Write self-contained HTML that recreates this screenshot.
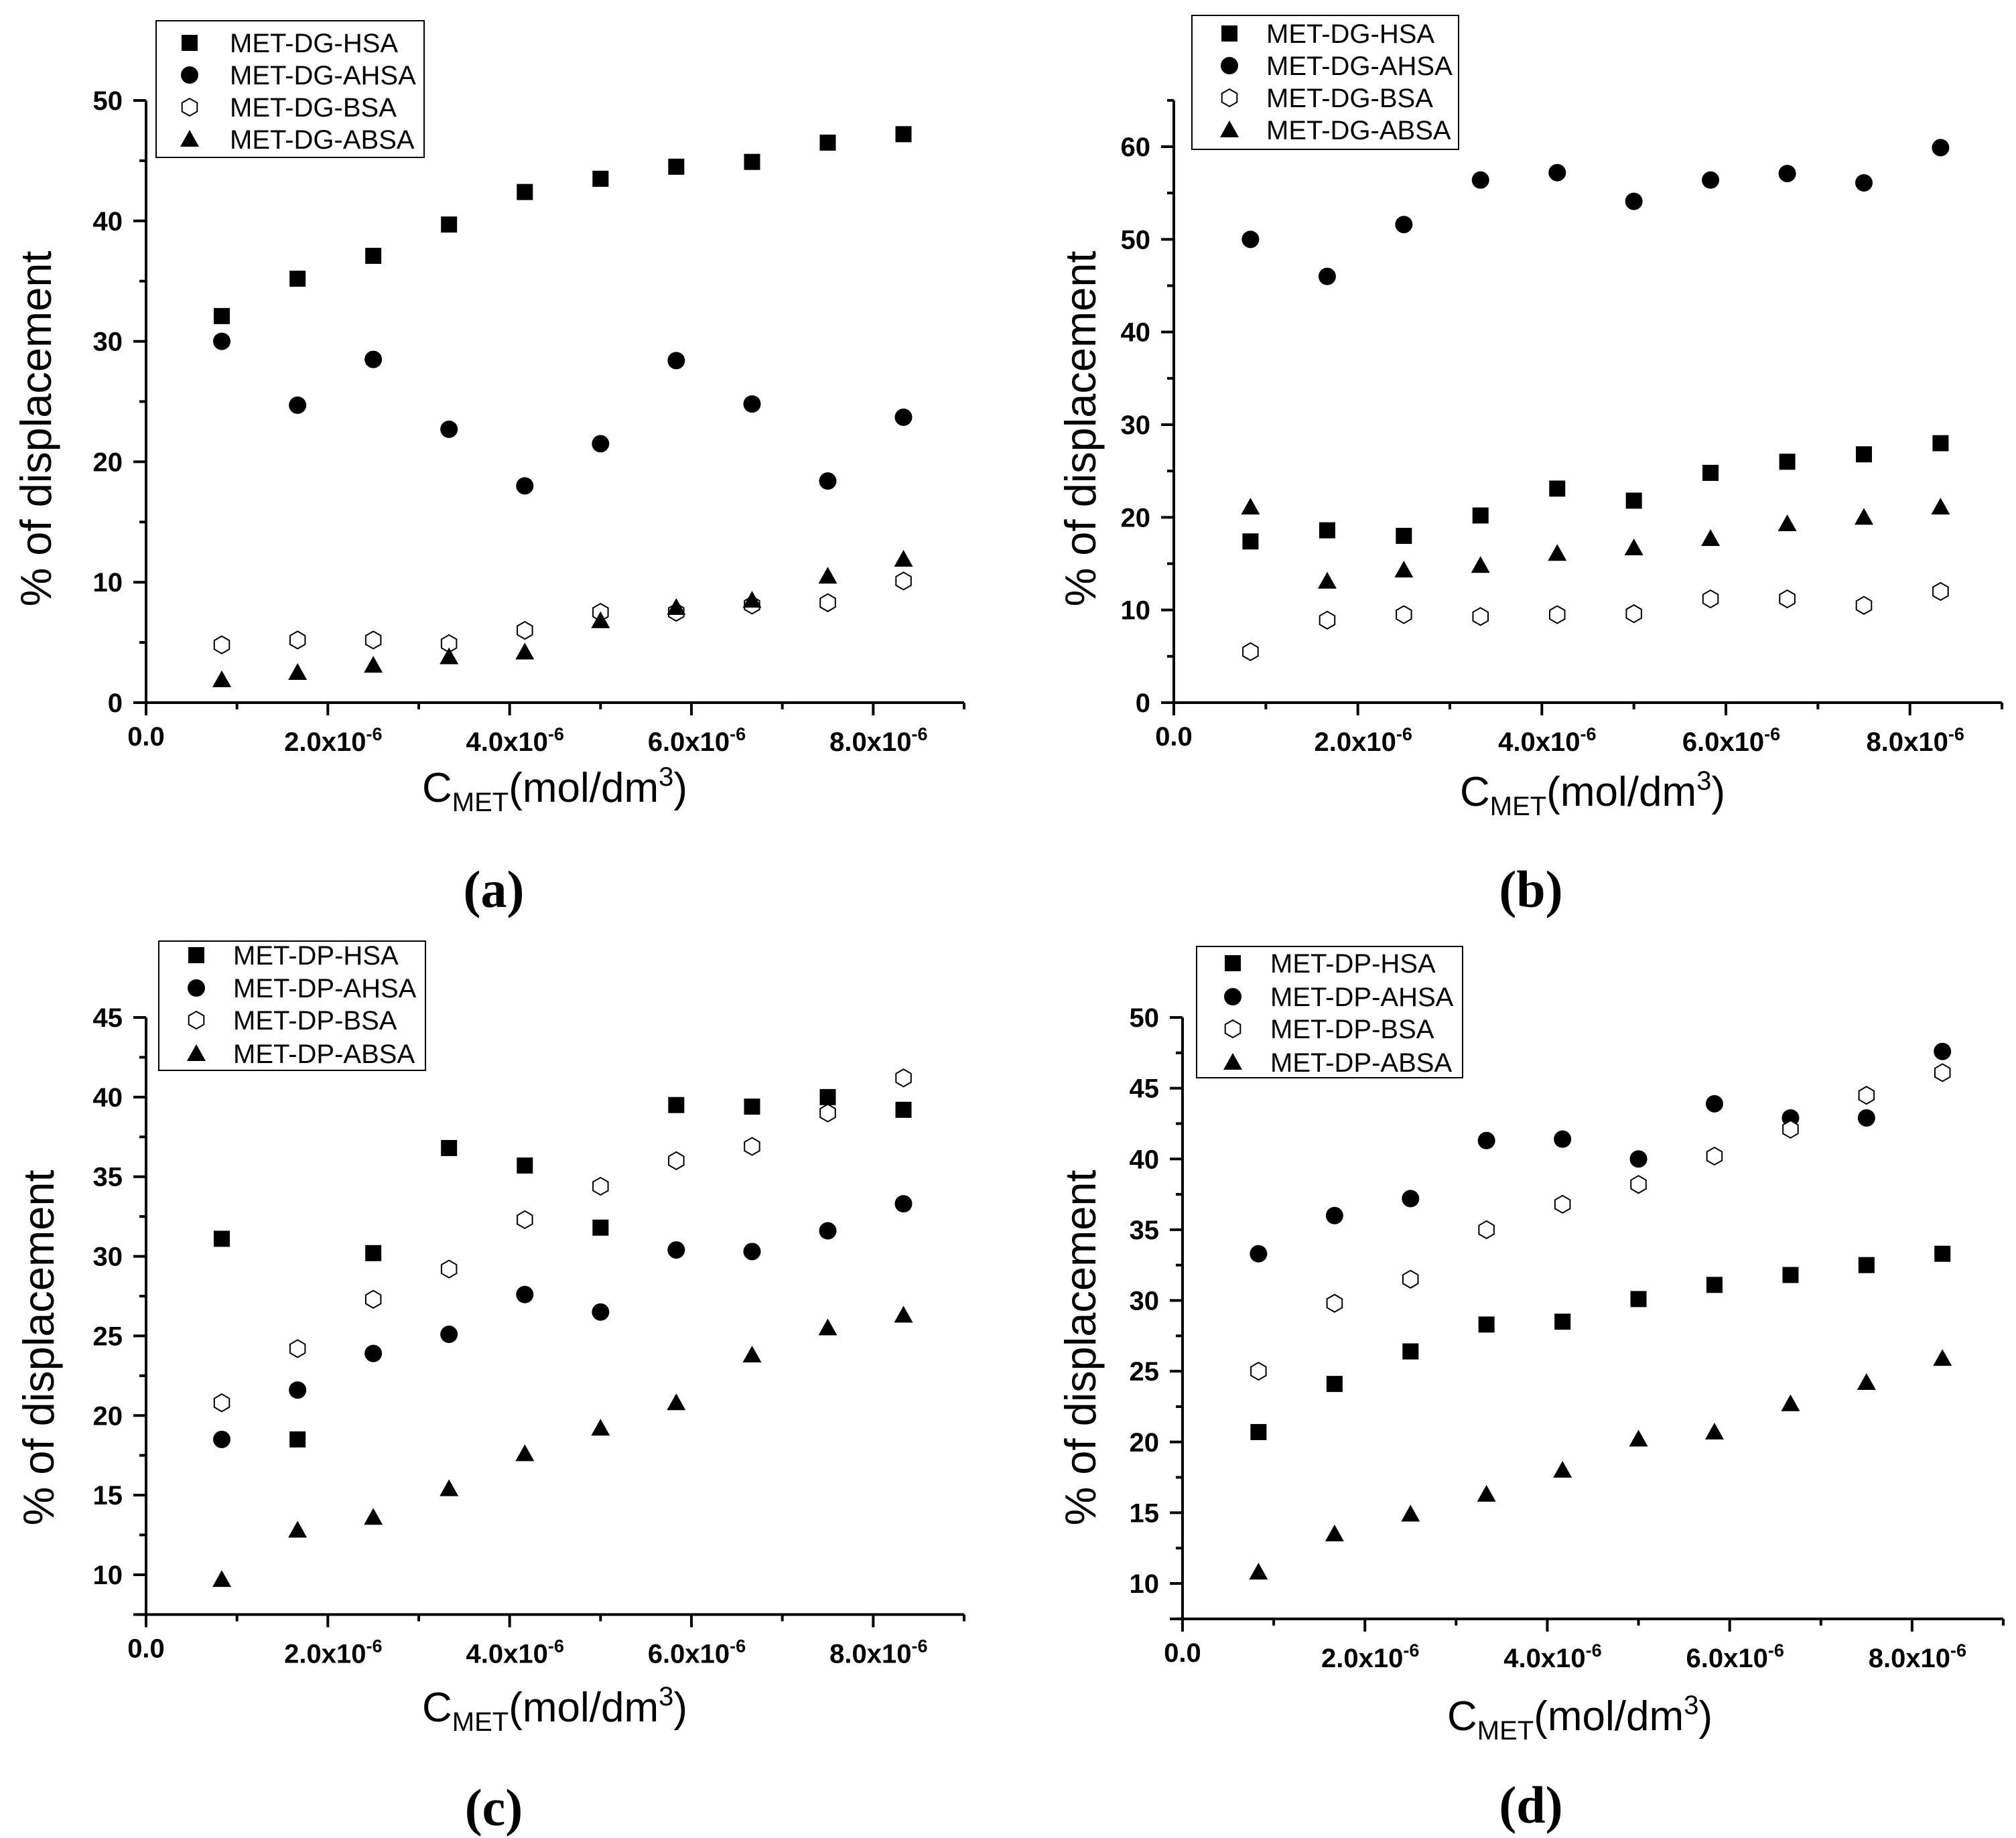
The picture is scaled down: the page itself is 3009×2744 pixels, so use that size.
<!DOCTYPE html>
<html><head><meta charset="utf-8">
<style>
html,body{margin:0;padding:0;background:#fff;}
svg{display:block;font-family:"Liberation Sans",Arial,sans-serif;}
</style></head>
<body>
<svg id="fig" width="3009" height="2744" viewBox="0 0 3009 2744" xmlns="http://www.w3.org/2000/svg">
<rect width="3009" height="2744" fill="#fff"/>
</svg>
<script>
const xValues = [0.833,1.667,2.5,3.333,4.167,5,5.833,6.667,7.5,8.333];
const xTickValues = [0,2,4,6,8];
const seriesNames = ['HSA','AHSA','BSA','ABSA'];
const aHSA = [32.1,35.2,37.1,39.7,42.4,43.5,44.5,44.9,46.5,47.2];
const aAHSA = [30,24.7,28.5,22.7,18,21.5,28.4,24.8,18.4,23.7];
const aBSA = [4.8,5.2,5.2,4.9,6.0,7.5,7.5,8.1,8.3,10.1];
const aABSA = [1.9,2.5,3.1,3.8,4.2,6.8,7.9,8.5,10.5,11.9];
const bHSA = [17.4,18.6,18.0,20.2,23.1,21.8,24.8,26.0,26.8,28.0];
const bAHSA = [50,46,51.6,56.4,57.2,54.1,56.4,57.1,56.1,59.9];
const bBSA = [5.5,8.9,9.5,9.3,9.5,9.6,11.2,11.2,10.5,12.0];
const bABSA = [21.1,13.1,14.3,14.8,16.1,16.7,17.7,19.3,20.0,21.1];
const cHSA = [31.1,18.5,30.2,36.8,35.7,31.8,39.5,39.4,40.0,39.2];
const cAHSA = [18.5,21.6,23.9,25.1,27.6,26.5,30.4,30.3,31.6,33.3];
const cBSA = [20.8,24.2,27.3,29.2,32.3,34.4,36.0,36.9,39.0,41.2];
const cABSA = [9.7,12.8,13.6,15.4,17.6,19.2,20.8,23.8,25.5,26.3];
const dHSA = [20.7,24.1,26.4,28.3,28.5,30.1,31.1,31.8,32.5,33.3];
const dAHSA = [33.3,36.0,37.2,41.3,41.4,40.0,43.9,42.9,42.9,47.6];
const dBSA = [25.0,29.8,31.5,35.0,36.8,38.2,40.2,42.1,44.5,46.1];
const dABSA = [10.8,13.5,14.9,16.3,18.0,20.2,20.7,22.7,24.2,25.9];
const aYTicks = [0,10,20,30,40,50];
const bYTicks = [0,10,20,30,40,50,60];
const cYTicks = [10,15,20,25,30,35,40,45];
const dYTicks = [10,15,20,25,30,35,40,45,50];

const NS='http://www.w3.org/2000/svg';
const svg=document.getElementById('fig');
function mk(tag,attrs,parent){const e=document.createElementNS(NS,tag);for(const k in attrs)e.setAttribute(k,attrs[k]);(parent||svg).appendChild(e);return e;}

const panels=[
 {id:'a',tag:'DG',data:[aHSA,aAHSA,aBSA,aABSA],yTicks:aYTicks,ymin:0,ymax:50,axTop:50,minorStep:5,
  x0:218,x1:1439,y0:1049,yTop:150,leg:[233,31,400,204],legY:[64,112,160,208],legMX:283,legTX:343,
  yt:[54,640],xt:[828,1197],lab:[737,1328]},
 {id:'b',tag:'DG',data:[bHSA,bAHSA,bBSA,bABSA],yTicks:bYTicks,ymin:0,ymax:60,axTop:65,minorStep:5,
  x0:1752,x1:2988,y0:1049,yTop:219,leg:[1779,23,398,200],legY:[50,98,146,194],legMX:1835,legTX:1890,
  yt:[1613,640],xt:[2377,1203],lab:[2285,1328]},
 {id:'c',tag:'DP',data:[cHSA,cAHSA,cBSA,cABSA],yTicks:cYTicks,ymin:10,ymax:45,axBot:7.5,axTop:45,minorStep:2.5,
  x0:218,x1:1439,y0:2351,yTop:1519,leg:[237,1405,398,193],legY:[1426,1475,1523,1573],legMX:293,legTX:348,
  yt:[58,2012],xt:[828,2570],lab:[737,2699]},
 {id:'d',tag:'DP',data:[dHSA,dAHSA,dBSA,dABSA],yTicks:dYTicks,ymin:10,ymax:50,axBot:7.5,axTop:50,minorStep:2.5,
  x0:1765,x1:2990,y0:2364,yTop:1519,leg:[1786,1413,397,196],legY:[1438,1488,1536,1586],legMX:1840,legTX:1896,
  yt:[1613,2012],xt:[2358,2583],lab:[2285,2695]}
];

function marker(g,kind,cx,cy){
  let e;
  if(kind===0){e=mk('rect',{x:cx-12,y:cy-12,width:24,height:24,fill:'#000'},g);}
  else if(kind===1){e=mk('circle',{cx:cx,cy:cy,r:13,fill:'#000'},g);}
  else if(kind===2){const r=13;let p=[];for(let i=0;i<6;i++){const a=Math.PI/6+i*Math.PI/3;p.push((cx+r*Math.cos(a)).toFixed(1)+','+(cy+r*Math.sin(a)).toFixed(1));}
    e=mk('polygon',{points:p.join(' '),fill:'#fff',stroke:'#000','stroke-width':2},g);}
  else {e=mk('polygon',{points:`${cx},${cy-14} ${cx+14},${cy+11} ${cx-14},${cy+11}`,fill:'#000'},g);}
  return e;
}

panels.forEach(p=>{
  const g=mk('g',{});
  
  
  const xs=v=>p.x0+(p.x1-p.x0)*v/9;
  const ys=v=>p.y0-(p.y0-p.yTop)*(v-p.ymin)/(p.ymax-p.ymin);
  const bot=p.axBot!==undefined?p.axBot:p.ymin;
  const axisY=ys(bot);
  const ya=mk('line',{x1:p.x0,y1:axisY,x2:p.x0,y2:ys(p.axTop),stroke:'#000','stroke-width':4},g);
  
  const xa=mk('line',{x1:p.x0-19,y1:axisY,x2:p.x1,y2:axisY,stroke:'#000','stroke-width':4},g);
  
  for(let v=bot;v<=p.axTop+1e-6;v+=p.minorStep){
    const major=p.yTicks.some(t=>Math.abs(t-v)<1e-6);
    mk('line',{x1:p.x0-(major?19:10),y1:ys(v),x2:p.x0,y2:ys(v),stroke:'#000','stroke-width':4},g);
  }
  p.yTicks.forEach(t=>{
    const tx=mk('text',{x:p.x0-35,y:ys(t)+14,'text-anchor':'end','font-size':40,'font-weight':'bold'},g);
    tx.textContent=t;
    
  });
  for(let v=0;v<=9;v++){
    const major=v%2===0;
    mk('line',{x1:xs(v),y1:axisY,x2:xs(v),y2:axisY+(major?19:10),stroke:'#000','stroke-width':4},g);
  }
  xTickValues.forEach(t=>{
    const tx=mk('text',{x:xs(t),y:axisY+64,'text-anchor':'middle','font-size':40,'font-weight':'bold'},g);
    
    if(t===0){tx.textContent='0.0';}
    else{tx.setAttribute('x',xs(t)+8);tx.setAttribute('y',axisY+72);
      tx.textContent=t.toFixed(1)+'x10';
      const s=mk('tspan',{'font-size':27,dy:-16},tx);s.textContent='-6';}
  });
  const yt=mk('text',{x:0,y:0,'text-anchor':'middle','font-size':65,transform:`translate(${p.yt[0]+22},${p.yt[1]}) rotate(-90)`},g);
  yt.textContent='% of displacement';
  
  const xt=mk('text',{x:p.xt[0],y:p.xt[1],'text-anchor':'middle','font-size':62},g);
  
  const t1=mk('tspan',{},xt);t1.textContent='C';
  const t2=mk('tspan',{'font-size':40,dy:14},xt);t2.textContent='MET';
  const t3=mk('tspan',{dy:-14},xt);t3.textContent='(mol/dm';
  const t4=mk('tspan',{'font-size':40,dy:-24},xt);t4.textContent='3';
  const t5=mk('tspan',{dy:24},xt);t5.textContent=')';
  const lb=mk('text',{x:p.lab[0],y:p.lab[1]+26,'text-anchor':'middle','font-size':78,'font-weight':'bold','font-family':'"Liberation Serif",serif'},g);
  lb.textContent='('+p.id+')';
  
  p.data.forEach((ser,si)=>{
    const sg=mk('g',{},g);
    
    
    ser.forEach((v,i)=>{
      const m=marker(sg,si,xs(xValues[i]),ys(v));
      
      
    });
  });
  const lg=mk('g',{},g);
  
  
  mk('rect',{x:p.leg[0],y:p.leg[1],width:p.leg[2],height:p.leg[3],fill:'#fff',stroke:'#000','stroke-width':2},lg);
  seriesNames.forEach((n,i)=>{
    const ly=p.legY[i];
    marker(lg,i,p.legMX,ly);
    const t=mk('text',{x:p.legTX,y:ly+14,'font-size':40},lg);
    t.textContent='MET-'+p.tag+'-'+n;
    
    
  });
});
</script>
</body></html>
